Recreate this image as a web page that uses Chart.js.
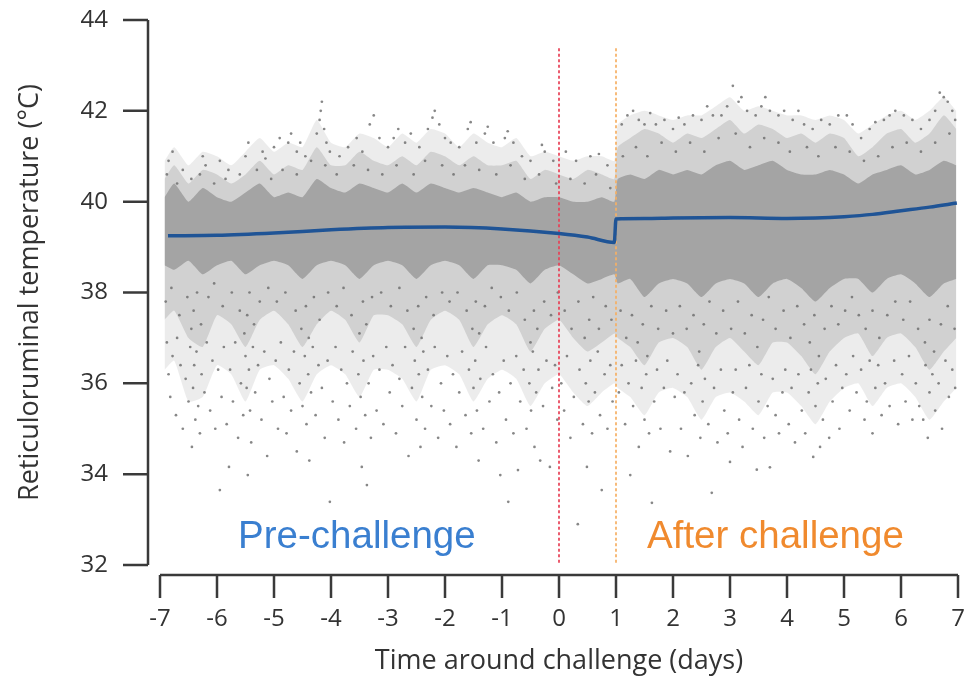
<!DOCTYPE html>
<html><head><meta charset="utf-8">
<script src="https://cdn.jsdelivr.net/npm/chart.js@4"></script>
<style>html,body{margin:0;padding:0;background:#fff}#wrap{width:971px;height:681px}</style>
</head><body><div id="wrap"><canvas id="c" width="971" height="681"></canvas></div>
<script>
// ---- data ----
const xTicks = [-7,-6,-5,-4,-3,-2,-1,0,1,2,3,4,5,6,7];
const yTicks = [32,34,36,38,40,42,44];
const xTitle = 'Time around challenge (days)';
const yTitle = 'Reticuloruminal temperature (°C)';

// day positions of the cloud envelopes
const bandDays = [-6.92,-6.75,-6.5,-6.25,-6,-5.75,-5.5,-5.25,-5,-4.75,-4.5,-4.25,-4,-3.75,-3.5,-3.25,-3,-2.75,-2.5,-2.25,-2,-1.75,-1.5,-1.25,-1,-0.75,-0.5,-0.25,0,0.25,0.5,0.75,0.97,
  1.03,1.25,1.5,1.75,2,2.25,2.5,2.75,3,3.25,3.5,3.75,4,4.25,4.5,4.75,5,5.25,5.5,5.75,6,6.25,6.5,6.75,6.97];
// faint fringe of the cloud
const faintLow = [36.3,36.5,35.6,35.7,36.4,36.2,35.6,36.3,36.4,36.1,35.6,36.2,36.4,36.2,35.7,36.3,36.3,36.1,35.6,36.3,36.4,36.2,35.6,36.1,36.3,36.1,35.5,36.0,36.2,35.8,35.5,35.8,36.0,
  35.9,35.7,35.3,35.8,35.9,35.7,35.2,35.7,35.8,35.6,35.3,35.8,35.8,35.5,35.1,35.6,35.9,36.0,35.5,35.9,36.0,35.7,35.2,35.6,35.9];
const faintHigh = [40.9,41.2,40.8,41.1,41.0,40.8,41.1,41.4,41.1,41.3,41.2,41.8,41.3,41.2,41.5,41.4,41.2,41.5,41.3,41.6,41.5,41.2,41.5,41.3,41.2,41.4,41.0,41.1,41.0,40.9,41.0,41.0,40.9,
  41.7,41.9,42.0,41.9,41.8,41.9,41.9,42.1,42.3,42.0,42.1,42.0,41.9,41.9,41.8,41.9,41.8,41.5,41.7,41.9,42.0,41.8,42.0,42.3,42.0];
// moderately dense part of the cloud
const outerLow = [37.4,37.6,37.0,36.8,37.5,37.3,36.8,37.4,37.6,37.3,36.8,37.3,37.6,37.4,36.9,37.5,37.5,37.3,36.8,37.4,37.6,37.4,36.8,37.3,37.5,37.3,36.7,37.2,37.4,37.0,36.7,36.9,37.1,
  37.0,36.8,36.4,36.9,37.0,36.8,36.3,36.8,37.0,36.7,36.4,36.9,36.9,36.6,36.2,36.7,37.0,37.1,36.6,37.0,37.1,36.8,36.3,36.7,37.0];
const outerHigh = [40.5,40.8,40.4,40.7,40.6,40.4,40.6,40.9,40.6,40.8,40.7,41.2,40.8,40.8,41.1,40.9,40.8,41.0,40.8,41.1,41.0,40.8,41.0,40.8,40.8,40.9,40.5,40.7,40.6,40.5,40.7,40.6,40.5,
  41.2,41.4,41.6,41.5,41.3,41.5,41.4,41.6,41.8,41.5,41.7,41.6,41.4,41.5,41.3,41.5,41.4,41.0,41.2,41.5,41.6,41.3,41.5,41.9,41.6];
// dense core of the cloud
const coreLow = [38.6,38.5,38.7,38.4,38.6,38.7,38.4,38.6,38.7,38.6,38.3,38.6,38.7,38.6,38.3,38.6,38.7,38.6,38.3,38.6,38.7,38.6,38.3,38.6,38.6,38.5,38.2,38.5,38.6,38.4,38.2,38.3,38.4,
  38.2,38.3,37.9,38.2,38.3,38.2,37.9,38.2,38.3,38.2,37.9,38.2,38.3,38.1,37.8,38.1,38.3,38.3,38.0,38.3,38.4,38.2,37.9,38.2,38.3];
const coreHigh = [40.1,40.4,40.0,40.3,40.1,40.0,40.2,40.4,40.1,40.2,40.1,40.5,40.3,40.2,40.4,40.3,40.2,40.4,40.2,40.4,40.3,40.2,40.3,40.2,40.1,40.2,40.0,40.1,40.1,40.0,40.0,40.1,40.0,
  40.5,40.6,40.5,40.7,40.6,40.7,40.6,40.8,40.9,40.7,40.8,40.9,40.7,40.6,40.6,40.7,40.6,40.4,40.6,40.7,40.8,40.6,40.7,40.9,40.8];

// sparse individual readings [day, temperature]
const dotsLower = [
 [-6.88,36.9],[-6.85,36.2],[-6.82,35.7],[-6.78,36.6],[-6.72,35.3],[-6.7,37.0],[-6.64,36.4],[-6.6,35.0],[-6.55,36.1],[-6.5,35.6],[-6.47,36.8],[-6.44,34.6],[-6.42,35.9],[-6.4,36.4],[-6.38,35.2],[-6.36,36.7],[-6.33,35.5],[-6.3,34.9],[-6.27,36.2],[-6.22,35.8],[-6.18,36.9],[-6.12,35.4],[-6.08,36.5],[-6.03,35.0],[-5.98,36.3],
 [-5.95,33.65],[-5.92,35.7],[-5.88,36.8],[-5.83,35.1],[-5.79,34.16],[-5.77,36.3],[-5.72,35.6],[-5.68,36.9],[-5.63,34.8],[-5.58,36.0],[-5.54,35.3],[-5.5,36.6],[-5.48,35.9],[-5.46,33.98],[-5.44,36.3],[-5.42,35.4],[-5.4,34.7],[-5.37,36.8],[-5.33,35.8],[-5.28,36.4],[-5.22,35.2],[-5.17,36.7],[-5.12,34.4],[-5.08,36.1],[-5.03,35.6],
 [-4.97,36.5],[-4.93,35.0],[-4.88,36.9],[-4.83,35.7],[-4.78,34.9],[-4.74,36.3],[-4.7,35.4],[-4.65,36.7],[-4.6,34.5],[-4.55,36.0],[-4.5,35.5],[-4.46,36.6],[-4.43,35.1],[-4.4,36.2],[-4.38,34.3],[-4.35,35.8],[-4.32,36.8],[-4.27,35.3],[-4.22,36.4],[-4.16,35.9],[-4.11,34.8],[-4.06,36.5],[-4.02,33.39],
 [-3.97,35.6],[-3.92,36.8],[-3.87,35.2],[-3.82,36.3],[-3.77,34.7],[-3.72,36.0],[-3.67,35.5],[-3.62,36.7],[-3.56,35.0],[-3.52,36.2],[-3.48,35.7],[-3.46,34.16],[-3.43,36.5],[-3.4,35.3],[-3.37,33.76],[-3.34,36.0],[-3.3,34.8],[-3.26,36.6],[-3.2,35.4],[-3.15,36.3],[-3.08,35.1],[-3.03,36.8],
 [-2.97,35.8],[-2.92,36.4],[-2.86,34.9],[-2.8,36.1],[-2.75,35.5],[-2.7,36.8],[-2.64,34.4],[-2.58,35.9],[-2.53,36.5],[-2.5,35.2],[-2.46,36.2],[-2.43,34.6],[-2.4,35.7],[-2.38,36.7],[-2.35,35.0],[-2.3,36.3],[-2.24,35.5],[-2.18,36.8],[-2.12,34.8],[-2.07,36.0],[-2.02,35.4],
 [-1.96,36.6],[-1.91,35.1],[-1.86,36.2],[-1.8,34.6],[-1.75,35.8],[-1.7,36.7],[-1.64,35.3],[-1.58,36.3],[-1.54,34.9],[-1.5,35.9],[-1.47,36.5],[-1.44,35.4],[-1.41,34.3],[-1.38,36.1],[-1.33,35.0],[-1.28,36.8],[-1.22,35.6],[-1.16,36.2],[-1.1,34.7],[-1.05,35.8],[-1.03,33.98],
 [-0.97,36.5],[-0.93,35.2],[-0.89,33.39],[-0.85,36.0],[-0.8,34.9],[-0.75,36.6],[-0.72,34.09],[-0.68,35.6],[-0.62,36.3],[-0.57,35.0],[-0.52,36.0],[-0.49,35.4],[-0.46,36.7],[-0.43,34.6],[-0.4,35.8],[-0.36,36.3],[-0.33,34.3],[-0.28,35.5],[-0.22,36.5],[-0.16,34.16],[-0.12,35.9],[-0.07,36.4],[-0.03,35.2],
 [0.04,36.0],[0.09,35.4],[0.14,36.6],[0.2,34.8],[0.26,35.7],[0.33,32.9],[0.36,36.3],[0.42,35.1],[0.47,36.0],[0.49,34.16],[0.52,35.6],[0.55,36.5],[0.58,34.9],[0.63,35.8],[0.68,36.7],[0.72,35.3],[0.75,33.65],[0.8,36.2],[0.85,35.0],[0.9,36.4],[0.94,35.6],
 [1.05,35.8],[1.1,36.4],[1.16,35.1],[1.22,36.0],[1.25,33.98],[1.3,35.5],[1.35,36.5],[1.4,34.6],[1.45,35.9],[1.5,35.2],[1.53,36.2],[1.58,34.9],[1.63,33.37],[1.67,35.6],[1.72,36.3],[1.78,35.0],[1.84,35.9],[1.9,36.5],[1.95,34.5],
 [2.03,35.7],[2.08,36.2],[2.14,35.0],[2.2,35.8],[2.26,34.4],[2.32,36.0],[2.38,35.3],[2.44,36.4],[2.48,34.8],[2.52,35.6],[2.56,36.1],[2.62,35.1],[2.68,33.59],[2.72,35.9],[2.78,34.7],[2.84,36.3],[2.9,35.4],[2.96,34.9],
 [3.0,34.27],[3.05,35.8],[3.1,36.3],[3.16,35.2],[3.22,34.6],[3.28,35.9],[3.34,36.4],[3.4,35.0],[3.47,34.1],[3.5,35.6],[3.55,36.2],[3.6,34.8],[3.66,35.5],[3.7,34.15],[3.75,36.1],[3.8,35.3],[3.86,34.9],[3.92,35.8],[3.97,36.3],
 [4.03,35.1],[4.08,35.9],[4.14,34.7],[4.2,36.2],[4.26,35.4],[4.32,34.9],[4.38,35.8],[4.42,36.3],[4.46,34.38],[4.5,35.5],[4.54,36.0],[4.58,34.6],[4.63,35.2],[4.68,36.1],[4.74,34.8],[4.8,35.6],[4.86,36.4],[4.92,35.0],[4.97,35.9],
 [5.04,36.2],[5.1,35.4],[5.16,36.6],[5.22,35.8],[5.3,36.3],[5.36,35.2],[5.4,35.6],[5.45,36.5],[5.5,34.9],[5.55,35.9],[5.6,36.4],[5.66,35.3],[5.72,36.0],[5.8,35.5],[5.88,36.5],[5.95,35.1],
 [6.02,36.2],[6.08,35.6],[6.14,36.6],[6.2,35.2],[6.26,36.0],[6.32,35.5],[6.39,35.2],[6.43,36.4],[6.47,34.8],[6.5,35.8],[6.55,36.2],[6.6,35.4],[6.66,36.0],[6.72,35.0],[6.78,36.5],[6.84,35.7],[6.9,36.3],[6.95,35.9]
];
const dotsMid = [
 [-6.9,37.8],[-6.8,38.1],[-6.66,37.5],[-6.52,37.9],[-6.45,37.2],[-6.41,37.6],[-6.35,38.0],[-6.28,37.3],[-6.15,37.9],[-6.05,38.2],[-5.9,37.7],[-5.74,38.0],[-5.6,37.6],[-5.52,37.1],[-5.47,37.5],[-5.43,38.0],[-5.35,37.3],[-5.25,37.8],[-5.1,38.1],[-4.95,37.8],[-4.8,38.0],[-4.62,37.6],[-4.52,37.2],[-4.44,37.7],[-4.39,37.0],[-4.3,37.9],[-4.2,37.4],[-4.05,38.0],
 [-3.9,37.7],[-3.78,38.1],[-3.64,37.5],[-3.5,37.1],[-3.44,37.8],[-3.38,37.3],[-3.28,37.9],[-3.12,38.0],[-2.95,37.7],[-2.8,38.1],[-2.66,37.6],[-2.55,37.2],[-2.47,37.7],[-2.41,37.0],[-2.33,37.9],[-2.2,37.5],[-2.05,38.0],[-1.92,37.8],[-1.78,38.0],[-1.62,37.6],[-1.52,37.2],[-1.46,37.8],[-1.4,37.1],[-1.3,37.7],[-1.18,38.1],[-1.02,37.9],
 [-0.88,37.6],[-0.74,38.0],[-0.6,37.4],[-0.5,36.9],[-0.44,37.6],[-0.38,37.2],[-0.26,37.8],[-0.14,37.5],[-0.02,38.0],[0.1,37.6],[0.22,37.2],[0.34,37.8],[0.45,37.0],[0.53,37.4],[0.6,37.9],[0.7,37.2],[0.82,37.7],[0.92,37.4],
 [1.08,37.6],[1.18,37.0],[1.28,37.5],[1.38,36.9],[1.47,37.3],[1.55,36.6],[1.62,37.7],[1.74,37.2],[1.88,37.6],[2.0,37.1],[2.12,37.7],[2.24,37.2],[2.36,37.5],[2.46,36.7],[2.54,37.3],[2.64,37.8],[2.76,37.1],[2.88,37.6],[3.02,37.2],[3.14,37.8],[3.26,37.1],[3.38,37.5],[3.48,36.8],[3.58,37.4],[3.68,37.9],[3.8,37.2],[3.94,37.6],
 [4.06,37.0],[4.18,37.7],[4.3,37.3],[4.4,36.9],[4.48,37.5],[4.56,36.6],[4.66,37.2],[4.78,37.7],[4.9,37.3],[5.02,37.6],[5.14,37.9],[5.26,37.5],[5.38,37.2],[5.5,37.6],[5.62,37.0],[5.76,37.5],[5.9,37.8],[6.04,37.4],[6.16,37.8],[6.3,37.2],[6.42,36.9],[6.5,37.4],[6.58,36.7],[6.7,37.3],[6.82,37.7],[6.94,37.2],
 [-6.88,40.6],[-6.7,40.4],[-6.45,40.5],[-6.3,40.6],[-6.05,40.4],[-5.85,40.5],[-5.6,40.6],[-5.3,40.7],[-5.05,40.5],[-4.85,40.7],[-4.6,40.6],[-4.35,40.9],[-4.1,40.8],[-3.9,40.6],[-3.6,40.8],[-3.35,40.7],[-3.1,40.6],[-2.85,40.8],[-2.55,40.6],[-2.35,40.9],[-2.05,40.8],[-1.85,40.6],[-1.65,40.8],[-1.4,40.7],[-1.1,40.6],[-0.85,40.8],[-0.6,40.5],[-0.35,40.6],[-0.05,40.4],[0.2,40.5],[0.45,40.4],[0.65,40.6],[0.9,40.3],
 [1.12,41.0],[1.35,41.2],[1.55,41.0],[1.8,41.3],[2.05,41.1],[2.3,41.3],[2.55,41.1],[2.8,41.4],[3.1,41.5],[3.35,41.2],[3.6,41.4],[3.85,41.3],[4.05,41.1],[4.35,41.2],[4.55,41.0],[4.85,41.2],[5.1,41.1],[5.35,40.9],[5.6,41.0],[5.85,41.2],[6.1,41.3],[6.35,41.1],[6.6,41.3],[6.85,41.5]
];
const dotsUpper = [
 [-6.85,40.9],[-6.78,41.1],[-6.6,40.7],[-6.25,41.0],[-6.2,40.8],[-5.95,40.9],[-5.8,40.7],[-5.5,41.0],[-5.45,41.3],[-5.2,41.1],[-5.15,40.95],[-5.0,41.2],[-4.9,41.4],[-4.75,41.3],[-4.7,41.5],[-4.6,41.1],[-4.54,41.3],[-4.45,41.0],[-4.25,41.5],[-4.2,41.8],[-4.18,42.0],[-4.16,42.2],[-4.12,41.6],[-4.08,41.3],[-4.02,41.1],
 [-3.85,41.0],[-3.7,41.2],[-3.55,41.4],[-3.45,41.1],[-3.32,41.7],[-3.25,41.9],[-3.15,41.4],[-3.0,41.2],[-2.9,41.4],[-2.82,41.6],[-2.7,41.3],[-2.6,41.5],[-2.45,41.2],[-2.3,41.6],[-2.22,41.85],[-2.18,42.0],[-2.1,41.7],[-2.0,41.4],[-1.9,41.3],[-1.75,41.2],[-1.6,41.6],[-1.55,41.75],[-1.45,41.3],[-1.3,41.5],[-1.25,41.65],[-1.15,41.3],[-0.95,41.4],[-0.9,41.55],[-0.8,41.3],[-0.65,41.0],[-0.5,40.9],[-0.3,41.25],[-0.25,41.1],[-0.1,40.9],[0.12,41.1],[0.3,40.9],[0.55,41.0],[0.7,41.05],[0.85,40.8],
 [1.1,41.7],[1.2,41.9],[1.3,42.0],[1.4,41.8],[1.5,41.7],[1.6,41.95],[1.7,41.7],[1.85,41.8],[2.0,41.6],[2.1,41.85],[2.2,41.7],[2.35,41.9],[2.5,41.8],[2.6,42.1],[2.7,41.9],[2.85,41.9],[2.95,42.1],[3.05,42.55],[3.15,42.2],[3.2,42.3],[3.3,42.0],[3.45,41.9],[3.55,42.1],[3.62,42.3],[3.7,42.0],[3.85,41.9],[3.95,42.0],
 [4.1,41.8],[4.2,42.0],[4.3,41.7],[4.45,41.6],[4.6,41.8],[4.75,41.7],[4.9,41.9],[5.05,41.9],[5.15,41.7],[5.3,41.4],[5.45,41.6],[5.55,41.75],[5.7,41.8],[5.8,41.9],[5.9,42.0],[6.05,41.9],[6.2,41.8],[6.35,41.6],[6.5,41.8],[6.6,42.0],[6.68,42.4],[6.75,42.3],[6.82,42.2],[6.9,42.0],[6.95,41.8]
];

// fitted trend
const trendDays = [-6.86,-6,-5,-4,-3,-2,-1,0,0.5,0.97,1.0,1.5,2,3,4,4.5,5,5.5,6,6.5,6.98];
const trendTemp = [39.25,39.26,39.31,39.38,39.43,39.44,39.40,39.30,39.22,39.10,39.62,39.63,39.64,39.65,39.63,39.64,39.67,39.72,39.80,39.88,39.97];

// challenge markers
const markerDays = [0, 1];
const markerTop = 43.38;
const markerBottom = 32;

// region labels
const regionLabels = ['Pre-challenge', 'After challenge'];
const regionLabelDays = [-5.63, 1.544];
const regionLabelTemp = 32.38;
const regionColors = ['#3a7fd0', '#f08a2e'];

// ---- chart ----
const pts = (xs, ys) => xs.map((x, i) => ({x, y: ys[i]}));
const pairs = arr => arr.map(p => ({x: p[0], y: p[1]}));

const rAxes = {
  id: 'rAxes',
  afterDraw(chart) {
    const {ctx, chartArea} = chart;
    const x = chart.scales.x, y = chart.scales.y;
    ctx.save();
    ctx.strokeStyle = '#3a3a3a';
    ctx.lineWidth = 2.5;
    ctx.beginPath();
    const ax = chartArea.left - 12;
    ctx.moveTo(ax, y.getPixelForValue(yTicks[yTicks.length - 1]));
    ctx.lineTo(ax, y.getPixelForValue(yTicks[0]));
    yTicks.forEach(v => { const py = y.getPixelForValue(v); ctx.moveTo(ax - 25, py); ctx.lineTo(ax, py); });
    const ay = chartArea.bottom + 10;
    ctx.moveTo(x.getPixelForValue(xTicks[0]), ay);
    ctx.lineTo(x.getPixelForValue(xTicks[xTicks.length - 1]), ay);
    xTicks.forEach(v => { const px = x.getPixelForValue(v); ctx.moveTo(px, ay); ctx.lineTo(px, ay + 23); });
    ctx.stroke();
    ctx.font = '38.5px "Liberation Sans", Arial, sans-serif';
    ctx.textAlign = 'left';
    ctx.textBaseline = 'alphabetic';
    regionLabels.forEach((t, i) => {
      ctx.fillStyle = regionColors[i];
      ctx.fillText(t, x.getPixelForValue(regionLabelDays[i]), y.getPixelForValue(regionLabelTemp));
    });
    ctx.restore();
  }
};

const bandStyle = {showLine: true, pointRadius: 0, borderWidth: 0, tension: 0.15};
const noPad = s => { s.paddingLeft = 0; s.paddingRight = 0; s.paddingTop = 0; s.paddingBottom = 0; };

new Chart(document.getElementById('c'), {
  type: 'line',
  data: {
    datasets: [
      Object.assign({data: pts(bandDays, faintLow), fill: false, order: 11}, bandStyle),
      Object.assign({data: pts(bandDays, faintHigh), fill: 0, backgroundColor: 'rgba(128,128,128,0.15)', order: 11}, bandStyle),
      Object.assign({data: pts(bandDays, outerLow), fill: false, order: 10}, bandStyle),
      Object.assign({data: pts(bandDays, outerHigh), fill: 2, backgroundColor: 'rgba(128,128,128,0.25)', order: 10}, bandStyle),
      Object.assign({data: pts(bandDays, coreLow), fill: false, order: 9}, bandStyle),
      Object.assign({data: pts(bandDays, coreHigh), fill: 4, backgroundColor: 'rgba(128,128,128,0.55)', order: 9}, bandStyle),
      {data: pairs(dotsLower.concat(dotsUpper, dotsMid)), showLine: false, pointRadius: 1.35, pointBorderWidth: 0,
       pointBackgroundColor: 'rgba(105,105,105,0.8)', order: 3},
      {data: [{x: markerDays[0], y: markerTop}, {x: markerDays[0], y: markerBottom}], showLine: true, pointRadius: 0,
       borderColor: 'rgba(232,64,86,0.95)', borderWidth: 1.8, borderDash: [3, 2.5], order: 2},
      {data: [{x: markerDays[1], y: markerTop}, {x: markerDays[1], y: markerBottom}], showLine: true, pointRadius: 0,
       borderColor: 'rgba(246,176,100,0.95)', borderWidth: 1.8, borderDash: [3, 2.5], order: 2},
      {data: pts(trendDays, trendTemp), showLine: true, pointRadius: 0, borderColor: '#1f5496', borderWidth: 3.5,
       cubicInterpolationMode: 'monotone', fill: false, order: 0}
    ]
  },
  options: {
    responsive: false,
    animation: false,
    devicePixelRatio: 1,
    layout: {padding: {top: 20, right: 13, left: 0, bottom: 0}},
    plugins: {legend: {display: false}, tooltip: {enabled: false}},
    scales: {
      x: {
        type: 'linear', min: -7, max: 7,
        grid: {display: false, drawTicks: false}, border: {display: false},
        ticks: {stepSize: 1, padding: 40, color: '#333', font: {family: '"Open Sans"', size: 24}},
        title: {display: true, text: xTitle, color: '#333', font: {family: '"Open Sans"', size: 27}, padding: {top: 0, bottom: 3}},
        afterFit: s => { s.height = 116; noPad(s); }
      },
      y: {
        type: 'linear', min: 32, max: 44,
        grid: {display: false, drawTicks: false}, border: {display: false},
        ticks: {stepSize: 2, padding: 52, color: '#333', font: {family: '"Open Sans"', size: 24}},
        title: {display: true, text: yTitle, color: '#333', font: {family: '"Open Sans"', size: 27}, padding: {top: 14, bottom: 0}},
        afterFit: s => { s.width = 160; noPad(s); }
      }
    }
  },
  plugins: [rAxes]
});
</script></body></html>
